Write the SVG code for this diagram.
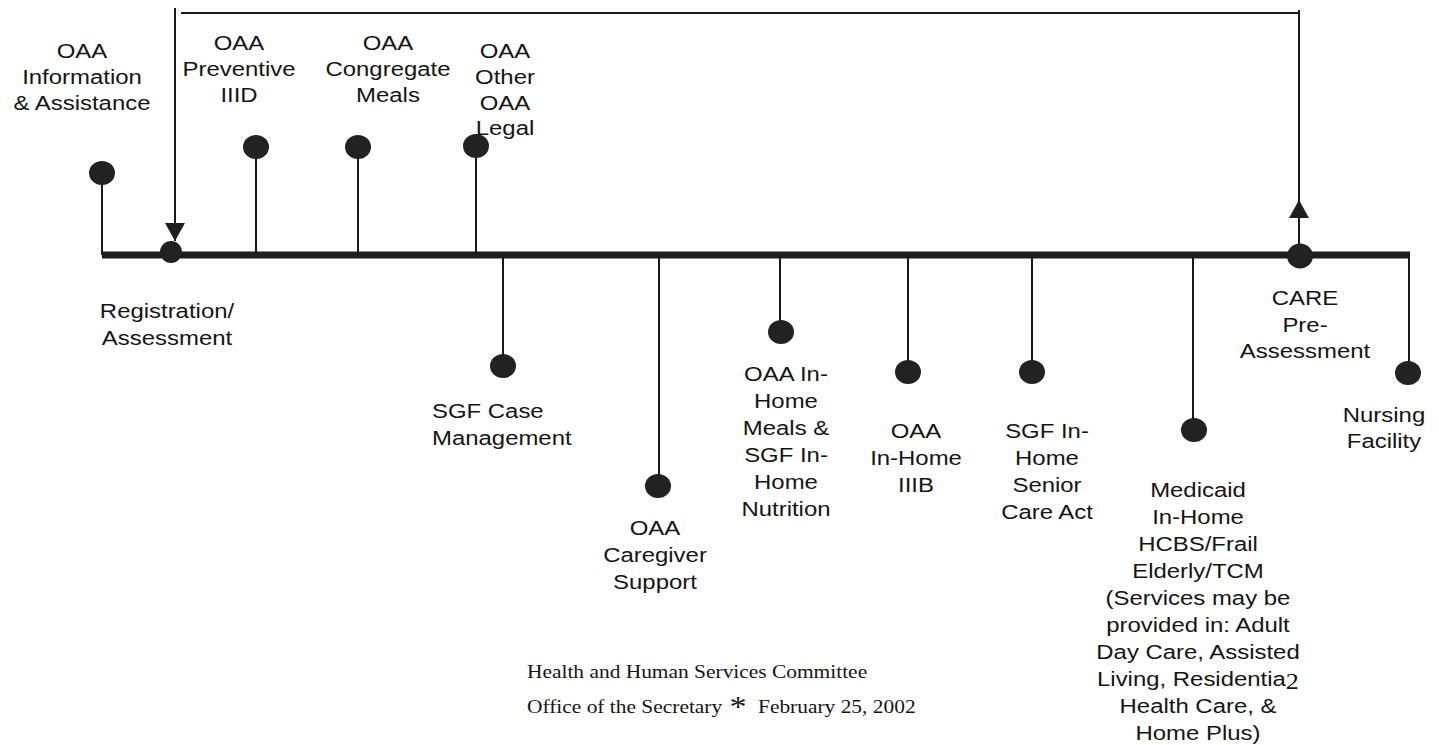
<svg xmlns="http://www.w3.org/2000/svg" width="1439" height="745" viewBox="0 0 1439 745">
<style>
.lbl{font-family:"Liberation Sans",Arial,sans-serif;font-size:21px;fill:#151515;text-anchor:middle}
.lft{text-anchor:start}
.ftr{font-family:"Liberation Serif","Times New Roman",serif;font-size:18.8px;fill:#151515}
.pg{font-family:"Liberation Serif","Times New Roman",serif;font-size:23px}
.dot{fill:#222}
.thin{stroke:#1a1a1a;stroke-width:2;fill:none}
.main{stroke:#1e1e1e;stroke-width:7;fill:none}
</style>
<defs>
<marker id="arr" markerUnits="userSpaceOnUse" markerWidth="22" markerHeight="20" viewBox="0 0 18 20" refX="18" refY="10" orient="auto">
<path d="M0,0 L18,10 L0,20 Z" fill="#1e1e1e"/>
</marker>
</defs>
<rect width="1439" height="745" fill="#fff"/>
<g id="connectors">
<line class="main" x1="102" y1="255" x2="1410" y2="255"/>
<line class="thin" x1="102" y1="173" x2="102" y2="255"/>
<line class="thin" x1="256" y1="147" x2="256" y2="255"/>
<line class="thin" x1="358" y1="147" x2="358" y2="255"/>
<line class="thin" x1="476" y1="146" x2="476" y2="255"/>
<line class="thin" x1="503" y1="255" x2="503" y2="366"/>
<line class="thin" x1="659" y1="255" x2="659" y2="486"/>
<line class="thin" x1="780" y1="255" x2="780" y2="332"/>
<line class="thin" x1="908" y1="255" x2="908" y2="372"/>
<line class="thin" x1="1032" y1="255" x2="1032" y2="372"/>
<line class="thin" x1="1193" y1="255" x2="1193" y2="430"/>
<line class="thin" x1="1409" y1="255" x2="1409" y2="373"/>
<line class="thin" x1="175" y1="8" x2="175" y2="241" marker-end="url(#arr)"/>
<line class="thin" x1="181" y1="13" x2="1299" y2="13"/>
<line class="thin" x1="1299" y1="10" x2="1299" y2="205"/>
<line class="thin" x1="1299" y1="250" x2="1299" y2="200" marker-end="url(#arr)"/>
</g>
<g id="n-info">
<ellipse class="dot" cx="102" cy="173" rx="13" ry="12"/>
<text class="lbl" transform="translate(82 0) scale(1.14 1)"><tspan x="0" y="58">OAA</tspan><tspan x="0" y="84">Information</tspan><tspan x="0" y="110">&amp; Assistance</tspan></text>
</g>
<g id="n-registration">
<ellipse class="dot" cx="171" cy="252" rx="11" ry="11"/>
<text class="lbl" transform="translate(167 0) scale(1.14 1)"><tspan x="0" y="318">Registration/</tspan><tspan x="0" y="345">Assessment</tspan></text>
</g>
<g id="n-preventive">
<ellipse class="dot" cx="256" cy="147" rx="13" ry="12"/>
<text class="lbl" transform="translate(239 0) scale(1.14 1)"><tspan x="0" y="50">OAA</tspan><tspan x="0" y="76">Preventive</tspan><tspan x="0" y="102">IIID</tspan></text>
</g>
<g id="n-congregate">
<ellipse class="dot" cx="358" cy="147" rx="13" ry="12"/>
<text class="lbl" transform="translate(388 0) scale(1.14 1)"><tspan x="0" y="50">OAA</tspan><tspan x="0" y="76">Congregate</tspan><tspan x="0" y="102">Meals</tspan></text>
</g>
<g id="n-other">
<ellipse class="dot" cx="476" cy="146" rx="13" ry="12"/>
<text class="lbl" transform="translate(505 0) scale(1.14 1)"><tspan x="0" y="58">OAA</tspan><tspan x="0" y="84">Other</tspan><tspan x="0" y="110">OAA</tspan><tspan x="0" y="135">Legal</tspan></text>
</g>
<g id="n-sgf-case">
<ellipse class="dot" cx="503" cy="366" rx="13" ry="12"/>
<text class="lbl lft" transform="translate(432 0) scale(1.14 1)"><tspan x="0" y="418">SGF Case</tspan><tspan x="0" y="445">Management</tspan></text>
</g>
<g id="n-caregiver">
<ellipse class="dot" cx="658" cy="486" rx="13" ry="12"/>
<text class="lbl" transform="translate(655 0) scale(1.14 1)"><tspan x="0" y="535">OAA</tspan><tspan x="0" y="562">Caregiver</tspan><tspan x="0" y="589">Support</tspan></text>
</g>
<g id="n-inhome-meals">
<ellipse class="dot" cx="781" cy="332" rx="13" ry="12"/>
<text class="lbl" transform="translate(786 0) scale(1.14 1)"><tspan x="0" y="381">OAA In-</tspan><tspan x="0" y="408">Home</tspan><tspan x="0" y="435">Meals &amp;</tspan><tspan x="0" y="462">SGF In-</tspan><tspan x="0" y="489">Home</tspan><tspan x="0" y="516">Nutrition</tspan></text>
</g>
<g id="n-iiib">
<ellipse class="dot" cx="908" cy="372" rx="13" ry="12"/>
<text class="lbl" transform="translate(916 0) scale(1.14 1)"><tspan x="0" y="438">OAA</tspan><tspan x="0" y="465">In-Home</tspan><tspan x="0" y="492">IIIB</tspan></text>
</g>
<g id="n-sgf-inhome">
<ellipse class="dot" cx="1032" cy="372" rx="13" ry="12"/>
<text class="lbl" transform="translate(1047 0) scale(1.14 1)"><tspan x="0" y="438">SGF In-</tspan><tspan x="0" y="465">Home</tspan><tspan x="0" y="492">Senior</tspan><tspan x="0" y="519">Care Act</tspan></text>
</g>
<g id="n-medicaid">
<ellipse class="dot" cx="1194" cy="430" rx="13" ry="12"/>
<text class="lbl" transform="translate(1198 0) scale(1.14 1)"><tspan x="0" y="497">Medicaid</tspan><tspan x="0" y="524">In-Home</tspan><tspan x="0" y="551">HCBS/Frail</tspan><tspan x="0" y="578">Elderly/TCM</tspan><tspan x="0" y="605">(Services may be</tspan><tspan x="0" y="632">provided in: Adult</tspan><tspan x="0" y="659">Day Care, Assisted</tspan><tspan x="0" y="686">Living, Residentia<tspan class="pg" dy="3">2</tspan></tspan><tspan x="0" y="713">Health Care, &amp;</tspan><tspan x="0" y="740">Home Plus)</tspan></text>
</g>
<g id="n-care">
<ellipse class="dot" cx="1300" cy="256" rx="13" ry="12.5"/>
<text class="lbl" transform="translate(1305 0) scale(1.14 1)"><tspan x="0" y="305">CARE</tspan><tspan x="0" y="332">Pre-</tspan><tspan x="0" y="358">Assessment</tspan></text>
</g>
<g id="n-nursing">
<ellipse class="dot" cx="1408" cy="373" rx="13" ry="12"/>
<text class="lbl" transform="translate(1384 0) scale(1.14 1)"><tspan x="0" y="422">Nursing</tspan><tspan x="0" y="448">Facility</tspan></text>
</g>
<g id="footer">
<text class="ftr" transform="translate(527 0) scale(1.14 1)"><tspan x="0" y="678">Health and Human Services Committee</tspan><tspan x="0" y="713">Office of the Secretary</tspan></text>
<text class="ftr" transform="translate(738 0) scale(1.14 1)" text-anchor="middle" style="font-size:30px"><tspan x="0" y="716">*</tspan></text>
<text class="ftr" transform="translate(758 0) scale(1.14 1)"><tspan x="0" y="713">February 25, 2002</tspan></text>
</g>
</svg>
